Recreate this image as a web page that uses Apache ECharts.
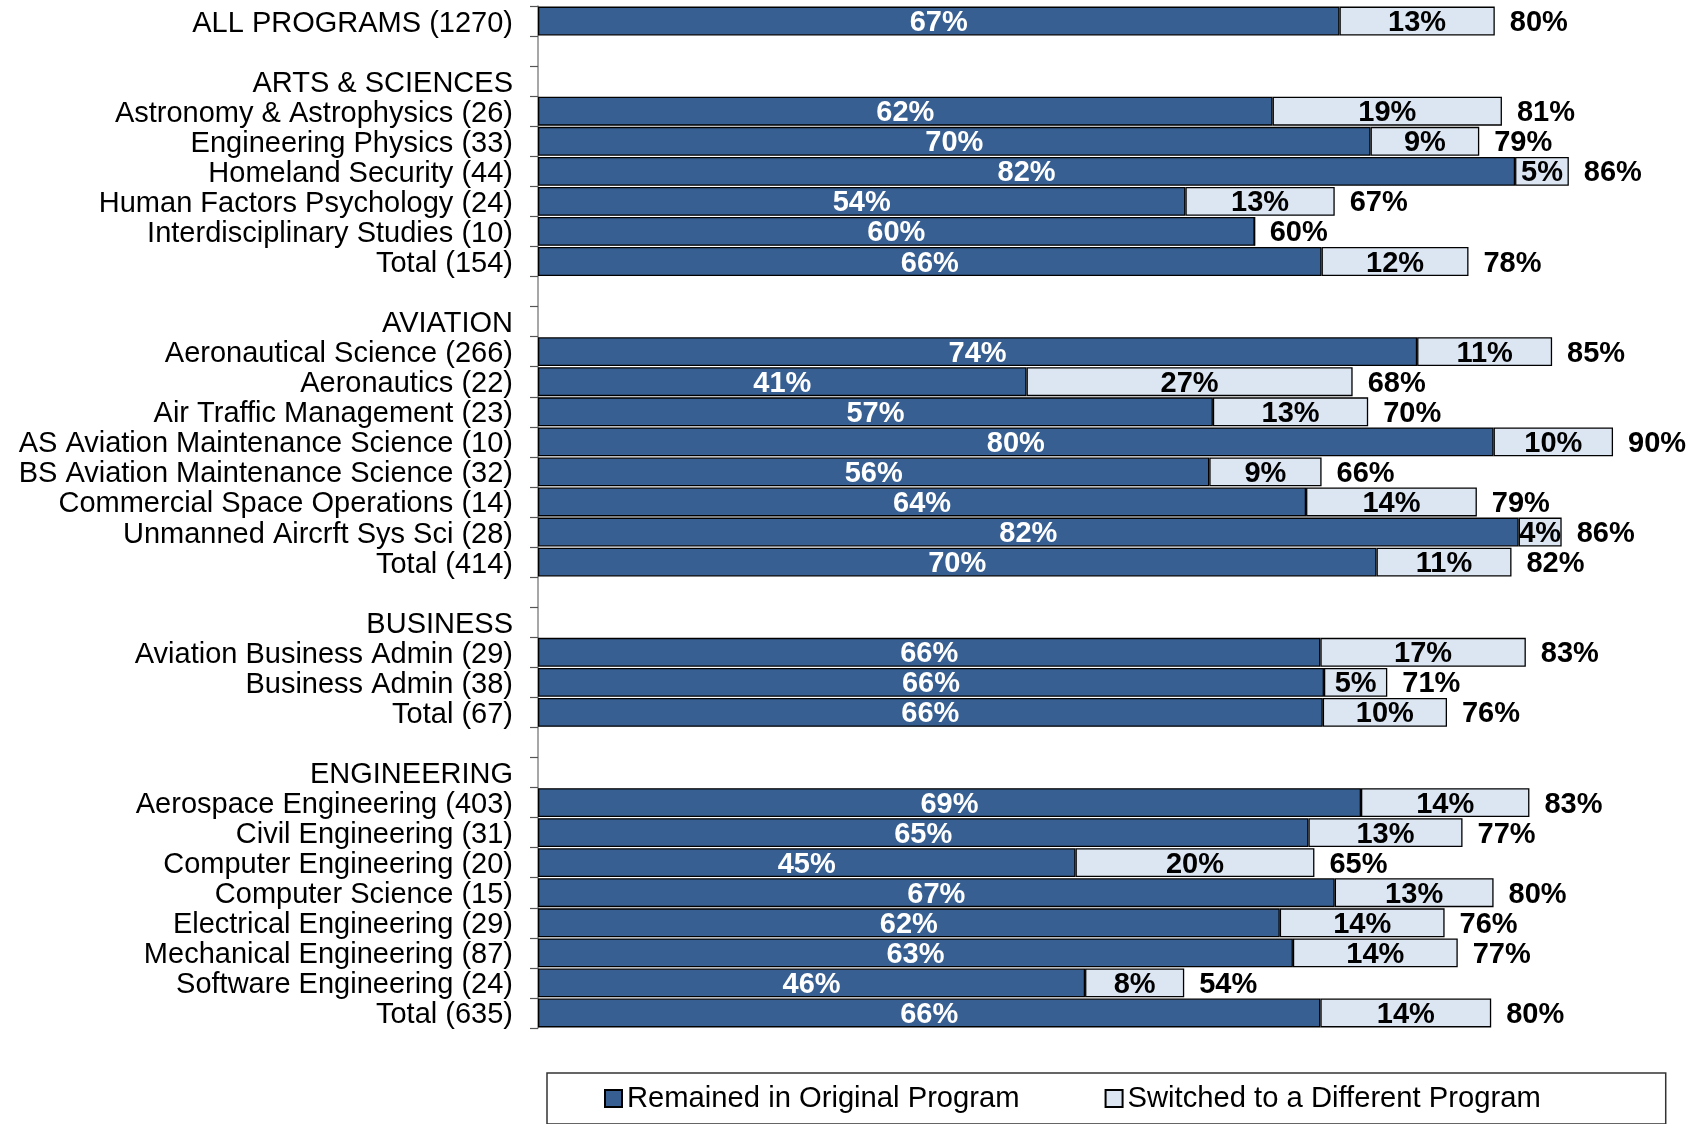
<!DOCTYPE html>
<html>
<head>
<meta charset="utf-8">
<script src="https://cdn.jsdelivr.net/npm/echarts@6/dist/echarts.min.js"></script>
<style>
html,body{margin:0;padding:0;background:#fff;}
#chart{width:1705px;height:1124px;}
</style>
</head>
<body>
<div id="chart"></div>
<script>
// Categories (top to bottom); blank strings are spacer rows
const categories = [
  'ALL PROGRAMS (1270)', '',
  'ARTS & SCIENCES', 'Astronomy & Astrophysics (26)', 'Engineering Physics (33)', 'Homeland Security (44)',
  'Human Factors Psychology (24)', 'Interdisciplinary Studies (10)', 'Total (154)', ' ',
  'AVIATION', 'Aeronautical Science (266)', 'Aeronautics (22)', 'Air Traffic Management (23)',
  'AS Aviation Maintenance Science (10)', 'BS Aviation Maintenance Science (32)',
  'Commercial Space Operations (14)', 'Unmanned Aircrft Sys Sci (28)', 'Total (414)', '  ',
  'BUSINESS', 'Aviation Business Admin (29)', 'Business Admin (38)', 'Total (67)', '   ',
  'ENGINEERING', 'Aerospace Engineering (403)', 'Civil Engineering (31)', 'Computer Engineering (20)',
  'Computer Science (15)', 'Electrical Engineering (29)', 'Mechanical Engineering (87)',
  'Software Engineering (24)', 'Total (635)'
];
// Percent remained in original program ('-' = header / spacer rows)
const remained = [
  67.1, '-',
  '-', 61.5, 69.7, 81.8, 54.2, 60.0, 65.6, '-',
  '-', 73.6, 40.9, 56.5, 80.0, 56.2, 64.3, 82.1, 70.2, '-',
  '-', 65.5, 65.8, 65.7, '-',
  '-', 68.9, 64.5, 45.0, 66.7, 62.1, 63.2, 45.8, 65.5
];
// Percent switched to a different program
const switched = [
  13.0, '-',
  '-', 19.2, 9.1, 4.5, 12.5, 0, 12.3, '-',
  '-', 11.3, 27.3, 13.0, 10.0, 9.4, 14.3, 3.6, 11.3, '-',
  '-', 17.2, 5.3, 10.4, '-',
  '-', 14.1, 12.9, 20.0, 13.3, 13.8, 13.8, 8.3, 14.3
];
// Total retained labels (%)
const totals = [
  80, null,
  null, 81, 79, 86, 67, 60, 78, null,
  null, 85, 68, 70, 90, 66, 79, 86, 82, null,
  null, 83, 71, 76, null,
  null, 83, 77, 65, 80, 76, 77, 54, 80
];

const FONT = '"Liberation Sans", Arial, sans-serif';
const chart = echarts.init(document.getElementById('chart'), null, {renderer: 'canvas'});
chart.setOption({
  animation: false,
  backgroundColor: '#ffffff',
  textStyle: {fontFamily: FONT},
  grid: {left: 538, top: 6, width: 1167, height: 1022, containLabel: false},
  xAxis: {type: 'value', min: 0, max: 97.7, show: false, splitLine: {show: false}},
  yAxis: {
    type: 'category', data: categories, inverse: true,
    axisLine: {show: true, lineStyle: {color: '#8a8a8a', width: 1.5}},
    axisTick: {show: true, length: 8, lineStyle: {color: '#555', width: 1.2}},
    axisLabel: {color: '#000', fontSize: 29, fontFamily: FONT, margin: 25, interval: 0,
      formatter: v => (v.trim() === '' ? '' : '{a|' + v + '}'),
      rich: {a: {color: '#000', fontSize: 29, fontFamily: FONT, padding: [5, 0, 0, 0]}}}
  },
  legend: {
    data: ['Remained in Original Program', 'Switched to a Different Program'],
    left: 547, top: 1073,
    orient: 'horizontal',
    itemWidth: 17, itemHeight: 17, itemGap: 85,
    icon: 'rect',
    padding: [11, 125, 11, 57],
    borderColor: '#333', borderWidth: 1.5,
    textStyle: {fontSize: 29.2, color: '#000', fontFamily: FONT, padding: [3, 0, 0, 0]}
  },
  series: [
    {
      name: 'Remained in Original Program', type: 'bar', stack: 's',
      data: remained, barCategoryGap: '4%',
      itemStyle: {color: '#375F91', borderColor: '#000', borderWidth: 1.3},
      label: {show: true, position: 'inside', offset: [0, 2], color: '#fff', fontWeight: 'bold', fontSize: 29, fontFamily: FONT,
        formatter: p => Math.round(p.value) + '%'}
    },
    {
      name: 'Switched to a Different Program', type: 'bar', stack: 's',
      data: switched,
      itemStyle: {color: '#DCE6F2', borderColor: '#000', borderWidth: 1.3},
      label: {show: true, position: 'inside', offset: [0, 2], color: '#000', fontWeight: 'bold', fontSize: 29, fontFamily: FONT,
        formatter: p => (p.value > 0 ? Math.round(p.value) + '%' : '')}
    },
    {
      name: 'total', type: 'bar', stack: 's',
      data: totals.map(t => (t === null ? '-' : 0)),
      itemStyle: {color: 'rgba(0,0,0,0)', borderWidth: 0},
      label: {show: true, position: 'right', distance: 15, offset: [0, 2], color: '#000', fontWeight: 'bold', fontSize: 29, fontFamily: FONT,
        formatter: p => (totals[p.dataIndex] === null ? '' : totals[p.dataIndex] + '%')}
    }
  ]
});
</script>
</body>
</html>
